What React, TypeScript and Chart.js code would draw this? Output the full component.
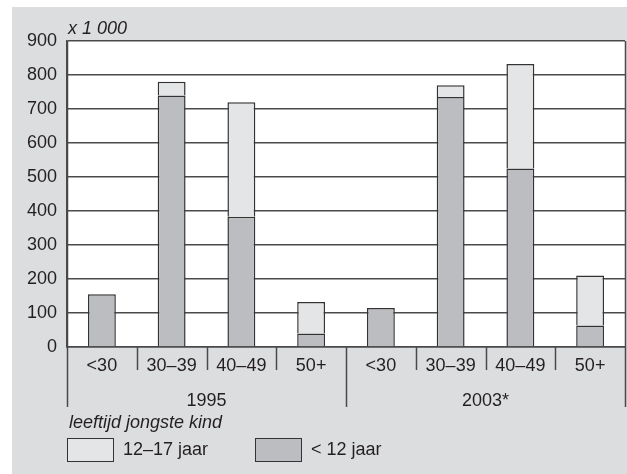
import React, { useEffect, useRef } from "react";
import { Chart, registerables } from "chart.js";

Chart.register(...registerables);

const ageGroups = ["<30", "30–39", "40–49", "50+", "<30", "30–39", "40–49", "50+"];
const years = ["1995", "2003*"];
const under12 = [155, 740, 383, 40, 115, 735, 525, 63];
const age12to17 = [null, 40, 337, 92, null, 35, 307, 147];
const yMin = 0;
const yMax = 900;
const yStep = 100;
const unitLabel = "x 1 000";
const legendTitle = "leeftijd jongste kind";
const seriesLabels = ["12–17 jaar", "< 12 jaar"];

const FONT = '"Liberation Sans", Arial, Helvetica, sans-serif';
const TEXT = "#231f20";
const LINE = "#4a4a4a";
const DARK = "#bcbdc0";
const LIGHT = "#e4e5e7";
const BG = "#dcdddf";

const decor = {
  id: "decor",
  beforeDraw(chart: any) {
    const ctx = chart.ctx;
    const a = chart.chartArea;
    ctx.save();
    ctx.fillStyle = BG;
    ctx.fillRect(12, 7, chart.width - 12, chart.height - 7);
    ctx.fillStyle = "#ffffff";
    ctx.fillRect(a.left, a.top, a.right - a.left, a.bottom - a.top);
    ctx.restore();
  },
  afterDraw(chart: any) {
    const ctx = chart.ctx;
    const a = chart.chartArea;
    const x = chart.scales.x;
    const n = ageGroups.length;
    const bound = (k: number) => {
      if (k === 0) return a.left;
      if (k === n) return a.right;
      return (x.getPixelForValue(k - 1) + x.getPixelForValue(k)) / 2;
    };
    ctx.save();
    ctx.strokeStyle = LINE;
    ctx.lineWidth = 1.5;
    for (let k = 0; k <= n; k++) {
      const px = Math.round(bound(k)) + 0.5;
      const long = k % 4 === 0;
      ctx.beginPath();
      ctx.moveTo(px, long && (k === 0 || k === n) ? a.top : a.bottom);
      ctx.lineTo(px, a.bottom + (long ? 60 : 23));
      ctx.stroke();
    }
    ctx.fillStyle = TEXT;
    ctx.font = `18px ${FONT}`;
    ctx.textAlign = "center";
    ctx.textBaseline = "middle";
    years.forEach((yr, i) => {
      const cx = (bound(i * 4) + bound(i * 4 + 4)) / 2;
      ctx.fillText(yr, cx, a.bottom + 54);
    });
    ctx.textAlign = "left";
    ctx.font = `italic 18px ${FONT}`;
    ctx.fillText(unitLabel, a.left + 1, 29);
    ctx.fillText(legendTitle, a.left + 2, 423);
    const ds = chart.data.datasets;
    const items = [
      { label: seriesLabels[0], color: ds[1].backgroundColor, x: 67 },
      { label: seriesLabels[1], color: ds[0].backgroundColor, x: 255 },
    ];
    ctx.font = `18px ${FONT}`;
    items.forEach((it) => {
      ctx.fillStyle = it.color;
      ctx.fillRect(it.x + 0.5, 438.5, 46, 23);
      ctx.strokeStyle = "#333";
      ctx.lineWidth = 1;
      ctx.strokeRect(it.x + 0.5, 438.5, 46, 23);
      ctx.fillStyle = TEXT;
      ctx.fillText(it.label, it.x + 56, 450);
    });
    ctx.restore();
  },
};

export default function App() {
  const ref = useRef<HTMLCanvasElement | null>(null);
  useEffect(() => {
    document.body.style.margin = "0";
    const canvas = ref.current!;
    const chart = new Chart(canvas, {
      type: "bar",
      data: {
        labels: ageGroups,
        datasets: [
          {
            label: seriesLabels[1],
            data: under12,
            backgroundColor: DARK,
            borderColor: "#333",
            borderWidth: 1.5,
            borderSkipped: "start",
            barPercentage: 0.4,
            categoryPercentage: 1,
          },
          {
            label: seriesLabels[0],
            data: age12to17 as any,
            backgroundColor: LIGHT,
            borderColor: "#333",
            borderWidth: 1.5,
            borderSkipped: "start",
            barPercentage: 0.4,
            categoryPercentage: 1,
          },
        ],
      },
      options: {
        responsive: false,
        animation: false,
        devicePixelRatio: 1,
        layout: { padding: { top: 41, right: 2, left: 0, bottom: 0 } },
        plugins: { legend: { display: false }, tooltip: { enabled: false } },
        scales: {
          x: {
            stacked: true,
            grid: { display: false },
            border: { display: true, color: LINE, width: 1.5 },
            ticks: {
              color: TEXT,
              font: { family: FONT, size: 18 },
              padding: 0,
              maxRotation: 0,
              autoSkip: false,
            },
            afterFit(scale: any) {
              scale.height = 127;
            },
          },
          y: {
            stacked: true,
            min: yMin,
            max: yMax,
            grid: { color: LINE, lineWidth: 1.5, drawTicks: false },
            border: { display: true, color: LINE, width: 1.5 },
            ticks: {
              stepSize: yStep,
              color: TEXT,
              font: { family: FONT, size: 18 },
              padding: 10,
            },
            afterFit(scale: any) {
              scale.width = 67;
            },
          },
        },
      },
      plugins: [decor],
    });
    return () => chart.destroy();
  }, []);
  return (
    <canvas
      ref={ref}
      width={627}
      height={474}
      style={{ display: "block", width: 627, height: 474 }}
    />
  );
}
